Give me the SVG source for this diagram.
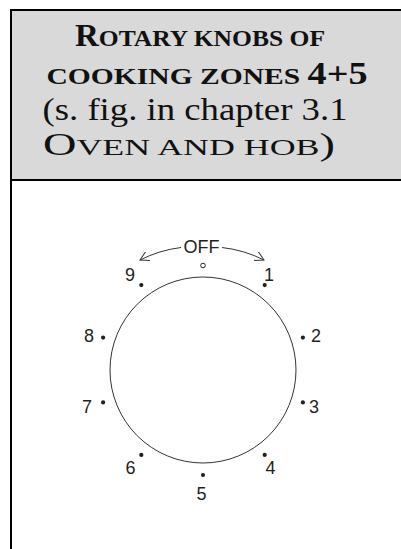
<svg xmlns="http://www.w3.org/2000/svg" width="401" height="549" viewBox="0 0 401 549">
<style>
.hd{font-family:"Liberation Serif","Times New Roman",serif;fill:#111;text-anchor:middle}
.b{font-weight:bold}
.lbl{font-family:"Liberation Sans",Arial,sans-serif;font-size:18px;fill:#231f20;text-anchor:middle}
.dot{fill:#231f20}
.ln{fill:none;stroke:#333;stroke-width:1}
</style>
<defs>
<marker id="ah" viewBox="0 0 10 10" refX="9" refY="5" markerWidth="10" markerHeight="10" markerUnits="userSpaceOnUse" orient="auto">
<path d="M0,0 L9,5 L0,10" fill="none" stroke="#333" stroke-width="1"/>
</marker>
</defs>
<g id="table">
<rect x="11" y="10" width="395" height="170" fill="#d9d9d9"/>
<line x1="10" y1="10" x2="401" y2="10" stroke="#000" stroke-width="2"/>
<line x1="10" y1="180" x2="401" y2="180" stroke="#000" stroke-width="2"/>
<line x1="11" y1="9" x2="11" y2="549" stroke="#000" stroke-width="2"/>
</g>
<g id="header">
<text class="hd b" x="200" y="46" textLength="250" lengthAdjust="spacingAndGlyphs"><tspan font-size="31">R</tspan><tspan font-size="24">OTARY KNOBS OF</tspan></text>
<text class="hd b" x="207" y="84" textLength="321" lengthAdjust="spacingAndGlyphs"><tspan font-size="24">COOKING ZONES </tspan><tspan font-size="31">4+5</tspan></text>
<text class="hd" x="195" y="120" font-size="31" textLength="305" lengthAdjust="spacingAndGlyphs">(s. fig. in chapter 3.1</text>
<text class="hd" x="189" y="155" textLength="292" lengthAdjust="spacingAndGlyphs"><tspan font-size="31">O</tspan><tspan font-size="24">VEN AND HOB</tspan><tspan font-size="31">)</tspan></text>
</g>
<g id="knob">
<circle class="ln" cx="203" cy="370" r="93"/>
<circle cx="203" cy="265.5" r="2.3" fill="none" stroke="#231f20" stroke-width="1"/>
</g>
<g id="connectors">
<path class="ln" d="M181,247.5 A125,125 0 0 0 140,260" marker-end="url(#ah)"/>
<path class="ln" d="M222,247.5 A125,125 0 0 1 264,260" marker-end="url(#ah)"/>
</g>
<g id="off"><text class="lbl" x="201.5" y="253">OFF</text></g>
<g id="pos1"><circle class="dot" cx="264.7" cy="285.1" r="2.1"/><text class="lbl" x="269" y="281">1</text></g>
<g id="pos2"><circle class="dot" cx="302.9" cy="337.6" r="2.1"/><text class="lbl" x="316" y="342">2</text></g>
<g id="pos3"><circle class="dot" cx="302.9" cy="402.4" r="2.1"/><text class="lbl" x="314" y="413">3</text></g>
<g id="pos4"><circle class="dot" cx="264.7" cy="454.9" r="2.1"/><text class="lbl" x="270.5" y="474">4</text></g>
<g id="pos5"><circle class="dot" cx="203" cy="475" r="2.1"/><text class="lbl" x="201.5" y="500">5</text></g>
<g id="pos6"><circle class="dot" cx="141.3" cy="454.9" r="2.1"/><text class="lbl" x="130.5" y="474">6</text></g>
<g id="pos7"><circle class="dot" cx="103.1" cy="402.4" r="2.1"/><text class="lbl" x="87" y="413">7</text></g>
<g id="pos8"><circle class="dot" cx="103.1" cy="337.6" r="2.1"/><text class="lbl" x="89" y="342">8</text></g>
<g id="pos9"><circle class="dot" cx="141.3" cy="285.1" r="2.1"/><text class="lbl" x="130" y="281">9</text></g>
</svg>
